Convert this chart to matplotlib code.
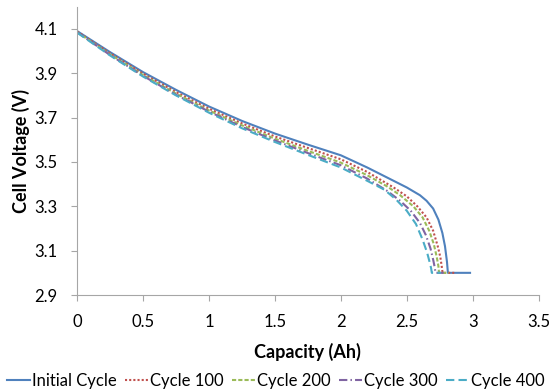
import matplotlib.pyplot as plt

plt.rcParams['font.family'] = ['Lato', 'DejaVu Sans']

# discharge curves, capacity (Ah) vs cell voltage (V)
cap_init = [0, 0.25, 0.5, 0.75, 1.0, 1.25, 1.5, 1.75, 2.0, 2.2, 2.4, 2.5, 2.6, 2.65, 2.7, 2.74, 2.77, 2.79, 2.805, 2.812, 2.98]
v_init = [4.09, 3.995, 3.905, 3.825, 3.75, 3.685, 3.628, 3.578, 3.53, 3.475, 3.415, 3.385, 3.35, 3.325, 3.29, 3.24, 3.18, 3.12, 3.05, 3.0, 3.0]

cap_100 = [0, 0.25, 0.5, 0.75, 1.0, 1.25, 1.5, 1.75, 2.0, 2.2, 2.4, 2.5, 2.58, 2.65, 2.70, 2.735, 2.755, 2.765, 2.772, 2.86]
v_100 = [4.088, 3.99, 3.898, 3.815, 3.74, 3.674, 3.615, 3.563, 3.512, 3.455, 3.385, 3.345, 3.30, 3.25, 3.19, 3.12, 3.07, 3.03, 3.0, 3.0]

cap_200 = [0, 0.25, 0.5, 0.75, 1.0, 1.25, 1.5, 1.75, 2.0, 2.2, 2.35, 2.45, 2.55, 2.62, 2.67, 2.705, 2.728, 2.74, 2.745, 2.82]
v_200 = [4.085, 3.985, 3.892, 3.808, 3.732, 3.665, 3.605, 3.55, 3.497, 3.44, 3.39, 3.35, 3.30, 3.25, 3.19, 3.13, 3.07, 3.03, 3.0, 3.0]

cap_300 = [0, 0.25, 0.5, 0.75, 1.0, 1.25, 1.5, 1.75, 2.0, 2.2, 2.35, 2.45, 2.53, 2.60, 2.645, 2.68, 2.70, 2.712, 2.718, 2.78]
v_300 = [4.085, 3.982, 3.888, 3.803, 3.727, 3.658, 3.597, 3.54, 3.485, 3.425, 3.37, 3.325, 3.28, 3.225, 3.17, 3.11, 3.06, 3.025, 3.0, 3.0]

cap_400 = [0, 0.25, 0.5, 0.75, 1.0, 1.25, 1.5, 1.75, 2.0, 2.2, 2.33, 2.42, 2.5, 2.57, 2.62, 2.655, 2.675, 2.685, 2.69, 2.76]
v_400 = [4.083, 3.98, 3.885, 3.80, 3.722, 3.652, 3.59, 3.532, 3.475, 3.415, 3.375, 3.33, 3.28, 3.22, 3.15, 3.09, 3.045, 3.02, 3.0, 3.0]

x_ticks = [0, 0.5, 1, 1.5, 2, 2.5, 3, 3.5]
x_tick_labels = ['0', '0.5', '1', '1.5', '2', '2.5', '3', '3.5']
y_ticks = [2.9, 3.1, 3.3, 3.5, 3.7, 3.9, 4.1]
y_tick_labels = ['2.9', '3.1', '3.3', '3.5', '3.7', '3.9', '4.1']

fig = plt.figure(figsize=(5.51, 3.89), dpi=100)
ax = fig.add_axes([0.140, 0.2416, 0.8375, 0.7412])

ax.plot(cap_init, v_init, color='#4F81BD', lw=1.5, label='Initial Cycle')
ax.plot(cap_100, v_100, color='#C0504D', lw=1.5, ls=(0, (1, 1)), label='Cycle 100')
ax.plot(cap_200, v_200, color='#9BBB59', lw=1.5, ls=(0, (2, 1)), label='Cycle 200')
ax.plot(cap_300, v_300, color='#8064A2', lw=1.5, ls=(0, (4, 1.5, 0.7, 1.5)), label='Cycle 300')
ax.plot(cap_400, v_400, color='#4BACC6', lw=1.5, ls=(0, (4, 2)), label='Cycle 400')

ax.set_xlim(0, 3.5)
ax.set_ylim(2.9, 4.2)
ax.set_xticks(x_ticks)
ax.set_xticklabels(x_tick_labels)
ax.set_yticks(y_ticks)
ax.set_yticklabels(y_tick_labels)

for s in ['top', 'right']:
    ax.spines[s].set_visible(False)
for s in ['left', 'bottom']:
    ax.spines[s].set_color('#A6A6A6')
    ax.spines[s].set_linewidth(0.8)
ax.tick_params(axis='both', colors='#A6A6A6', labelcolor='black', labelsize=12, length=4, width=0.8)
ax.tick_params(axis='x', pad=10)
ax.tick_params(axis='y', pad=10)

ax.set_xlabel('Capacity (Ah)', fontsize=13, fontweight='bold', labelpad=9)
ax.set_ylabel('Cell Voltage (V)', fontsize=13, fontweight='bold', labelpad=3)

fig.legend(loc='lower center', bbox_to_anchor=(0.5, -0.035), ncol=5, frameon=False, fontsize=12,
           handlelength=1.4, handletextpad=0.1, columnspacing=0.5, borderpad=0.3)

fig.savefig('out.png', dpi=100)
